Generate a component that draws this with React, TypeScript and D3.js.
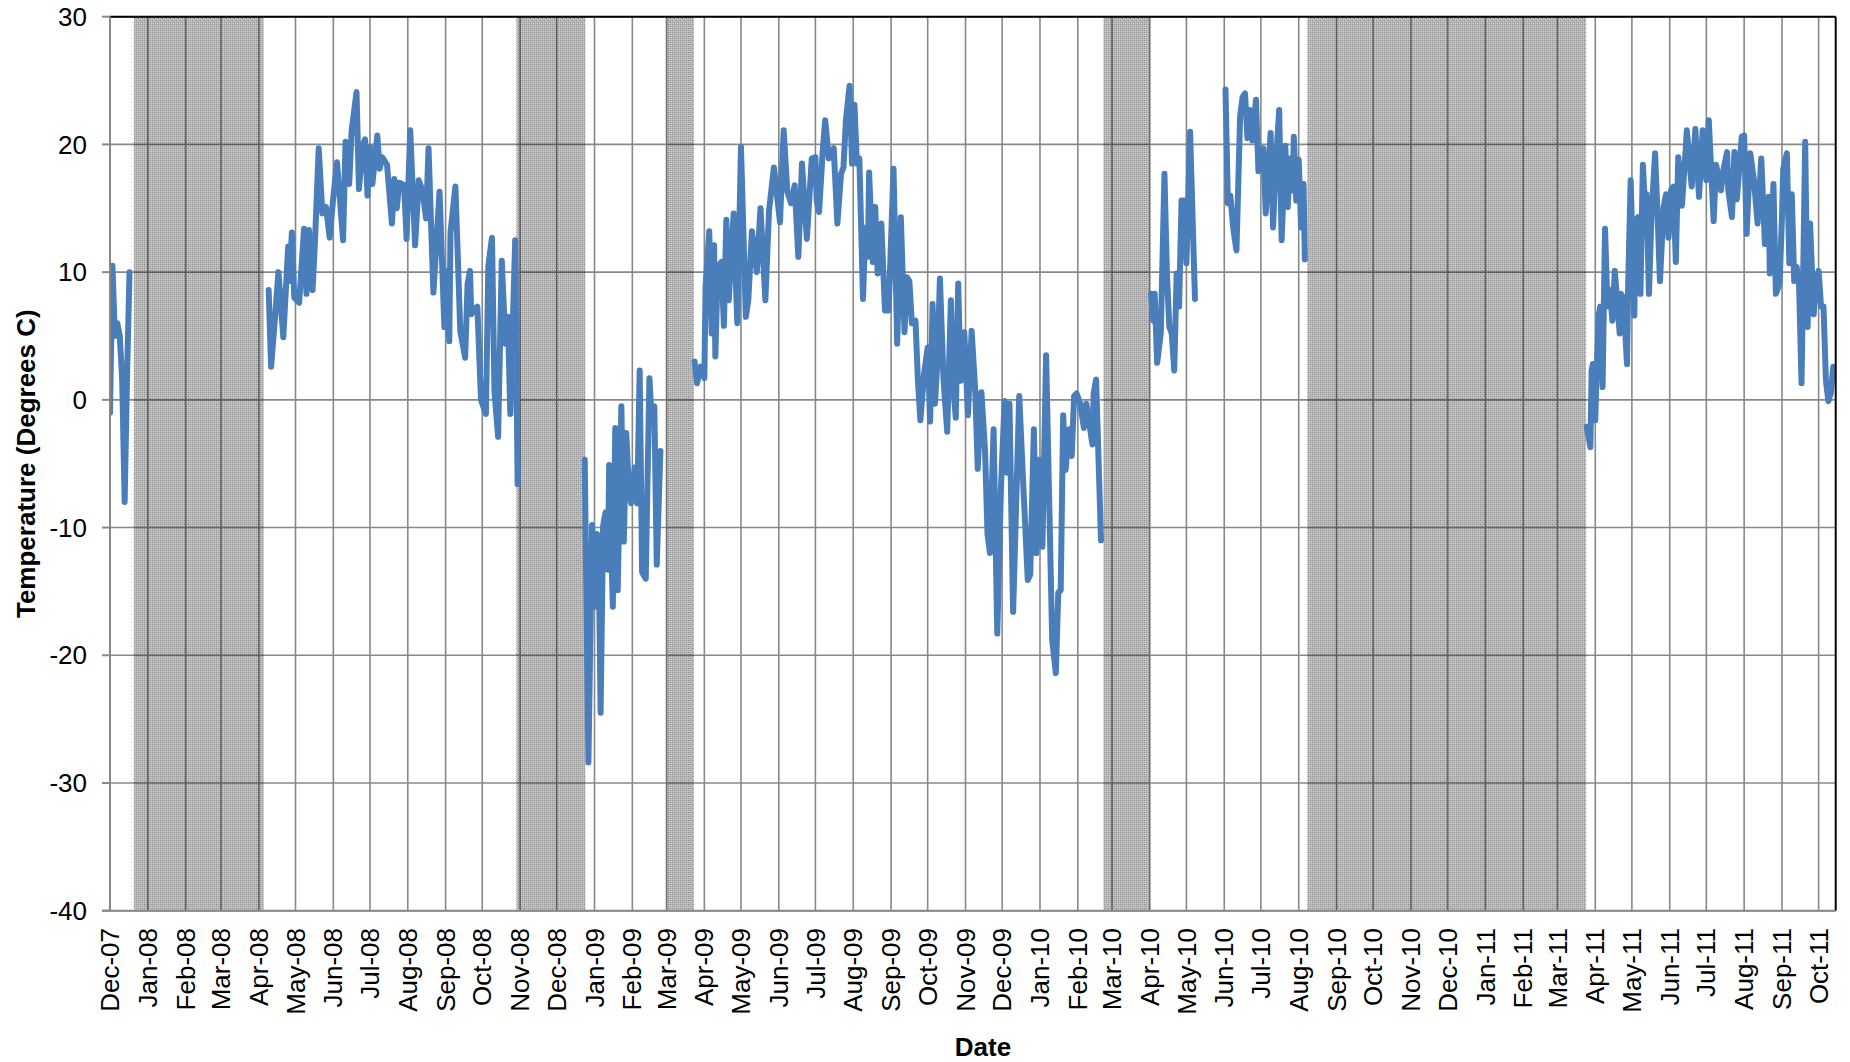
import React from "react";
import * as d3 from "d3";

// ---------- data ----------
const START_DATE = "2007-12-01";
const END_DATE = "2011-10-15";
const Y_TICKS = [30, 20, 10, 0, -10, -20, -30, -40];

// Each pair: [days since START_DATE, temperature in °C]
const dec2007: [number, number][] = [
  [0, -1.0], [2, 10.5], [4, 5.0], [6, 6.0], [8, 5.0], [10, 1.5], [12, -8.0], [14, 2.0], [16, 10.0],
];

const aprNov2008: [number, number][] = [
  [130, 8.6], [132, 2.6], [135, 6.2], [138, 10.0], [142, 4.9], [146, 12.0], [147, 9.3], [149, 13.1],
  [151, 8.0], [155, 7.6], [159, 13.4], [161, 8.3], [163, 13.3], [166, 8.6], [168, 12.5], [171, 19.7],
  [174, 14.6], [177, 15.1], [180, 12.7], [183, 15.9], [186, 18.6], [191, 12.5], [193, 20.2], [196, 16.9],
  [198, 21.1], [202, 24.1], [204, 16.5], [207, 19.9], [209, 20.4], [211, 16.0], [213, 19.8], [215, 16.9],
  [219, 20.7], [221, 18.1], [223, 19.0], [227, 18.4], [231, 13.8], [233, 17.3], [235, 15.0], [237, 17.0],
  [241, 16.8], [243, 12.6], [246, 21.1], [250, 12.1], [253, 17.2], [256, 16.4], [259, 14.2], [261, 19.7],
  [263, 14.0], [265, 8.4], [270, 16.3], [274, 5.7], [276, 10.1], [278, 4.6], [279, 13.1], [283, 16.7],
  [285, 11.2], [287, 5.4], [291, 3.3], [293, 9.1], [295, 10.1], [296, 6.7], [298, 7.0], [301, 7.3],
  [304, 0.0], [308, -1.1], [310, 10.5], [313, 12.7], [315, 0.7], [318, -2.9], [321, 10.9], [324, 4.4],
  [326, 6.5], [328, -1.1], [332, 12.5], [334, -6.6],
];

const winter2009: [number, number][] = [
  [389, -4.7], [392, -28.4], [395, -9.8], [397, -16.2], [399, -10.5], [401, -16.6], [402, -24.5],
  [404, -9.9], [406, -8.8], [408, -13.3], [409, -5.1], [412, -16.2], [414, -2.2], [416, -14.9],
  [419, -0.5], [421, -11.1], [423, -2.6], [425, -6.6], [427, -8.1], [430, -5.3], [432, -8.1],
  [434, 2.3], [436, -13.5], [439, -14.0], [440, -8.5], [442, 1.7], [444, -1.8], [446, -0.5],
  [448, -12.9], [451, -4.0],
];

const mar2009Feb2010: [number, number][] = [
  [479, 3.0], [481, 1.3], [484, 2.6], [487, 1.7], [488, 8.9], [491, 13.2], [493, 5.2], [495, 12.1],
  [496, 3.4], [498, 10.4], [501, 10.8], [503, 5.8], [505, 14.1], [507, 7.8], [511, 14.6], [514, 6.0],
  [517, 19.8], [521, 6.5], [523, 7.8], [526, 13.2], [530, 10.0], [533, 15.0], [537, 7.8], [540, 14.8],
  [544, 18.2], [549, 13.9], [552, 21.1], [555, 16.3], [558, 15.4], [561, 16.8], [564, 11.2], [567, 18.5],
  [571, 12.6], [575, 18.9], [578, 19.0], [579, 15.6], [581, 14.7], [584, 19.5], [586, 21.9], [589, 18.9],
  [593, 19.7], [596, 13.8], [599, 17.7], [601, 18.2], [603, 21.9], [606, 24.6], [608, 18.5], [610, 23.1],
  [612, 18.5], [614, 18.9], [617, 7.9], [619, 13.5], [621, 11.2], [622, 17.8], [625, 10.8], [627, 15.1],
  [629, 9.9], [632, 13.8], [635, 7.0], [638, 7.0], [642, 18.1], [645, 4.4], [648, 14.3], [651, 5.3],
  [653, 9.6], [655, 9.3], [657, 6.0], [660, 6.2], [662, 1.5], [664, -1.6], [667, 2.0], [670, 4.1],
  [672, -1.7], [674, 7.5], [676, -0.3], [678, 3.1], [680, 9.5], [683, 1.5], [686, -2.5], [689, 7.8],
  [691, 1.0], [693, -1.4], [695, 9.1], [697, 1.5], [700, 5.3], [703, -1.2], [706, 5.4], [709, 0.7],
  [711, -5.4], [714, 0.6], [717, -4.0], [719, -10.5], [721, -12.0], [724, -2.3], [727, -18.3],
  [730, -7.0], [733, -0.1], [735, -5.7], [737, -0.3], [740, -16.6], [745, 0.3], [748, -6.0],
  [752, -14.1], [754, -13.7], [757, -2.3], [759, -12.0], [761, -4.7], [764, -11.5], [767, 3.5],
  [772, -18.8], [775, -21.4], [777, -15.1], [779, -14.9], [781, -1.2], [783, -5.5], [786, -2.3],
  [788, -4.4], [790, 0.3], [792, 0.5], [795, -0.3], [798, -2.2], [800, -0.3], [805, -3.5], [806, 0.5],
  [808, 1.6], [812, -11.0],
];

const aprMay2010: [number, number][] = [
  [853, 8.3], [855, 6.2], [856, 8.3], [858, 2.9], [861, 5.2], [864, 17.7], [866, 9.9], [868, 5.7],
  [870, 5.2], [872, 2.3], [874, 9.9], [876, 7.3], [878, 15.6], [880, 15.6], [882, 10.7], [885, 21.0],
  [889, 7.9],
];

const junAug2010: [number, number][] = [
  [914, 24.3], [916, 15.4], [918, 16.0], [920, 13.8], [921, 13.0], [923, 11.7], [926, 22.2], [928, 23.7],
  [930, 24.0], [932, 20.5], [934, 22.7], [936, 20.3], [939, 23.5], [941, 17.9], [945, 19.7], [947, 14.6],
  [951, 20.9], [953, 13.5], [955, 18.0], [958, 22.7], [960, 12.5], [963, 19.9], [965, 15.1], [967, 18.9],
  [969, 16.4], [970, 20.6], [972, 15.6], [974, 18.8], [976, 13.5], [978, 16.9], [979, 11.0],
];

const aprOct2011: [number, number][] = [
  [1210, -2.1], [1213, -3.7], [1214, 2.3], [1215, 2.8], [1217, -1.6], [1218, 2.0], [1220, 6.7],
  [1221, 7.3], [1223, 1.0], [1225, 13.4], [1227, 7.3], [1229, 8.6], [1231, 6.2], [1233, 10.1],
  [1237, 5.2], [1238, 8.3], [1240, 8.0], [1243, 2.8], [1244, 9.3], [1246, 17.2], [1249, 6.6],
  [1250, 14.0], [1252, 14.3], [1254, 8.3], [1256, 18.4], [1258, 14.6], [1259, 16.1], [1261, 8.3],
  [1263, 14.3], [1266, 19.3], [1268, 14.6], [1270, 9.3], [1273, 15.1], [1275, 16.1], [1277, 12.7],
  [1279, 16.4], [1281, 16.7], [1283, 10.8], [1285, 19.0], [1288, 15.2], [1291, 19.5], [1292, 21.1],
  [1296, 16.7], [1299, 21.2], [1302, 15.9], [1305, 21.1], [1308, 17.2], [1310, 21.9], [1314, 14.0],
  [1316, 18.4], [1320, 16.4], [1322, 18.0], [1325, 19.4], [1326, 16.4], [1329, 14.3], [1331, 19.4],
  [1333, 15.7], [1337, 20.6], [1339, 20.7], [1341, 13.0], [1344, 19.3], [1347, 17.2], [1350, 13.8],
  [1353, 18.9], [1356, 12.2], [1359, 15.9], [1360, 9.9], [1363, 16.9], [1365, 8.3], [1368, 9.1],
  [1370, 14.3], [1371, 18.1], [1374, 19.3], [1376, 10.7], [1378, 16.1], [1380, 9.3], [1382, 10.4],
  [1384, 9.0], [1386, 1.3], [1389, 20.2], [1391, 5.7], [1393, 13.8], [1396, 6.7], [1398, 9.3],
  [1400, 10.1], [1402, 7.3], [1404, 7.3], [1406, 1.5], [1408, -0.1], [1410, 0.5], [1412, 2.6],
  [1415, 1.8],
];

const SEGMENTS = [dec2007, aprNov2008, winter2009, mar2009Feb2010, aprMay2010, junAug2010, aprOct2011];

// Shaded (no-record) periods, days since START_DATE
const gapStartDays = [19.5, 333, 456, 814, 981];
const gapEndDays = [126, 389.5, 478.5, 852, 1209.5];

// ---------- layout ----------
const W = 1850;
const H = 1062;
const PL = 110;
const PR = 1835.7;
const PT = 16.7;
const PB = 910.7;
const FONT = "'Liberation Sans', Arial, Helvetica, sans-serif";

const DAY = 86400000;
const t0 = new Date(START_DATE + "T00:00:00Z");
const t1 = new Date(END_DATE + "T00:00:00Z");
const dayToDate = (d: number) => new Date(t0.getTime() + d * DAY);

export default function App() {
  const x = d3.scaleUtc().domain([t0, t1]).range([PL, PR]);
  const y = d3.scaleLinear().domain([-40, 30]).range([PB, PT]);
  const months = d3.utcMonth.range(t0, new Date(t1.getTime() + 1));
  const fmt = d3.utcFormat("%b-%y");
  const line = d3
    .line<[number, number]>()
    .x((p) => x(dayToDate(p[0])))
    .y((p) => y(p[1]));

  return (
    <svg
      width={W}
      height={H}
      style={{ position: "absolute", left: 0, top: 0, background: "#fff" }}
      fontFamily={FONT}
    >
      <defs>
        <pattern id="stipple" width="4" height="4" patternUnits="userSpaceOnUse">
          <rect width="4" height="4" fill="rgba(0,0,0,0.22)" />
          <rect width="4" height="1" fill="rgba(0,0,0,0.13)" />
          <rect width="1" height="4" fill="rgba(0,0,0,0.13)" />
          <rect x="2" y="2" width="1" height="1" fill="rgba(0,0,0,0.45)" />
        </pattern>
        <clipPath id="plotClip">
          <rect x={PL} y={PT - 5} width={PR - PL} height={PB - PT + 10} />
        </clipPath>
      </defs>

      {/* gridlines */}
      {Y_TICKS.map((v) => (
        <line key={"h" + v} x1={PL} x2={PR} y1={y(v)} y2={y(v)} stroke="#888" strokeWidth={1.6} />
      ))}
      {months.map((m) => (
        <line key={"v" + m.getTime()} x1={x(m)} x2={x(m)} y1={PT} y2={PB} stroke="#888" strokeWidth={1.6} />
      ))}

      {/* shaded gaps (drawn over gridlines, darkening them) */}
      {gapStartDays.map((s, i) => (
        <rect
          key={"g" + i}
          x={x(dayToDate(s))}
          y={PT}
          width={x(dayToDate(gapEndDays[i])) - x(dayToDate(s))}
          height={PB - PT}
          fill="url(#stipple)"
        />
      ))}

      {/* data line */}
      <g clipPath="url(#plotClip)">
        {SEGMENTS.map((seg, i) => (
          <path
            key={"s" + i}
            d={line(seg) || ""}
            fill="none"
            stroke="#4a7ebb"
            strokeWidth={6}
            strokeLinejoin="round"
            strokeLinecap="round"
          />
        ))}
      </g>

      {/* frame */}
      <line x1={PL} x2={PR} y1={PT} y2={PT} stroke="#000" strokeWidth={2} />
      <line x1={PR} x2={PR} y1={PT} y2={PB} stroke="#000" strokeWidth={2} />
      <line x1={PL} x2={PL} y1={PT} y2={PB} stroke="#888" strokeWidth={2} />
      <line x1={PL - 8} x2={PR} y1={PB} y2={PB} stroke="#888" strokeWidth={2} />

      {/* y ticks + labels */}
      {Y_TICKS.map((v) => (
        <g key={"yt" + v}>
          <line x1={PL - 8} x2={PL} y1={y(v)} y2={y(v)} stroke="#888" strokeWidth={2} />
          <text x={87} y={y(v)} dy="0.35em" textAnchor="end" fontSize={26} fill="#000">
            {v}
          </text>
        </g>
      ))}

      {/* x labels */}
      {months.map((m) => (
        <text
          key={"xl" + m.getTime()}
          transform={`translate(${x(m)},928) rotate(-90)`}
          dy="0.35em"
          textAnchor="end"
          fontSize={26}
          fill="#000"
        >
          {fmt(m)}
        </text>
      ))}

      {/* axis titles */}
      <text x={983} y={1056} textAnchor="middle" fontSize={26} fontWeight="bold" fill="#000">
        Date
      </text>
      <text
        transform={`translate(26,${(PT + PB) / 2}) rotate(-90)`}
        dy="0.35em"
        textAnchor="middle"
        fontSize={26}
        fontWeight="bold"
        fill="#000"
      >
        Temperature (Degrees C)
      </text>
    </svg>
  );
}
